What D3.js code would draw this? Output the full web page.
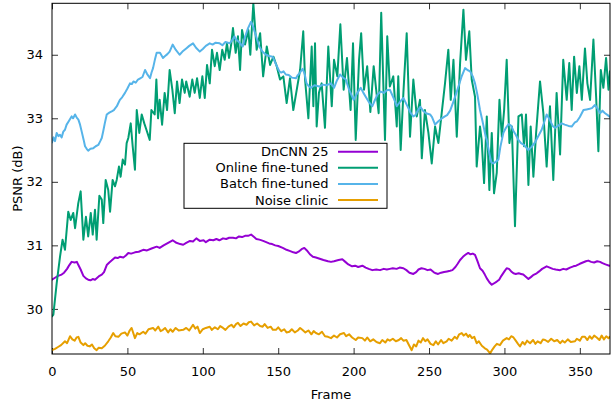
<!DOCTYPE html>
<html>
<head>
<meta charset="utf-8">
<script src="https://cdn.jsdelivr.net/npm/d3@7"></script>
<style>
  html, body { margin: 0; padding: 0; background: #fff; }
  svg { display: block; font-family: "DejaVu Sans", sans-serif; }
</style>
</head>
<body>
<svg id="chart" width="616" height="407"></svg>
<script>
// ---- Data: [frame, PSNR dB] ----
const seriesNames = ["DnCNN 25", "Online fine-tuned", "Batch fine-tuned", "Noise clinic"];
const seriesColors = ["#9400d3", "#009e73", "#56b4e9", "#e69f00"];
const xTicks = [0, 50, 100, 150, 200, 250, 300, 350];
const yTicks = [30, 31, 32, 33, 34];
const xLabel = "Frame";
const yLabel = "PSNR (dB)";

const dncnn25 = [[0,30.46],[2,30.49],[4,30.52],[6.4,30.54],[8,30.57],[10,30.63],[11.5,30.69],[13,30.74],[15,30.73],[16.5,30.74],[17.5,30.69],[19,30.62],[20.8,30.52],[22.5,30.48],[24,30.46],[25.5,30.45],[27,30.47],[28.5,30.46],[30,30.49],[31.5,30.52],[33,30.54],[34.5,30.58],[36.3,30.69],[38,30.73],[39.5,30.76],[41.8,30.81],[43.5,30.80],[45,30.82],[47.3,30.81],[49,30.84],[50.6,30.88],[52.5,30.87],[55,30.89],[57.5,30.90],[60.5,30.93],[63,30.92],[66,30.95],[69.4,30.98],[71.4,30.96],[74,31.00],[77,31.04],[80,31.08],[82.5,31.04],[85,31.02],[87,31.01],[89,31.04],[91.5,31.07],[93.5,31.06],[95.7,31.11],[98,31.07],[100.5,31.08],[102,31.05],[104.6,31.09],[107,31.08],[109,31.10],[111,31.08],[113.4,31.11],[115.5,31.10],[117.5,31.12],[120,31.12],[122,31.11],[124,31.14],[126,31.13],[128,31.15],[130,31.15],[132,31.17],[134,31.13],[135.5,31.10],[137.5,31.09],[140,31.07],[142,31.05],[144,31.03],[146,31.02],[148,31.00],[150,30.99],[153,30.96],[155.5,30.93],[158,30.91],[160,30.89],[161.8,30.88],[163.5,30.90],[165.5,30.94],[167.3,30.96],[169,30.92],[171,30.86],[173,30.82],[175,30.81],[177.5,30.79],[180,30.77],[183,30.75],[185,30.74],[187,30.75],[190,30.77],[192.5,30.78],[194.5,30.74],[196.5,30.70],[199,30.67],[201,30.68],[203,30.66],[205.8,30.68],[208,30.65],[210,30.63],[212.4,30.61],[215,30.62],[217.5,30.61],[220,30.63],[222,30.62],[224,30.63],[226,30.64],[228.5,30.63],[230.5,30.65],[233,30.64],[235,30.61],[237,30.57],[239.6,30.55],[241.5,30.58],[243,30.62],[245,30.64],[247,30.63],[249,30.61],[251,30.62],[253,30.58],[254.5,30.56],[256,30.55],[258,30.57],[260,30.58],[262,30.59],[264,30.60],[265.5,30.61],[267.5,30.66],[269,30.71],[270.6,30.77],[272.5,30.82],[274.5,30.86],[276,30.88],[277.5,30.86],[279,30.87],[280.5,30.85],[282,30.76],[283.8,30.64],[285.5,30.60],[287,30.54],[288.3,30.48],[290,30.42],[291.6,30.38],[293,30.40],[294.9,30.43],[296.5,30.46],[298,30.52],[300,30.59],[301.5,30.64],[303,30.63],[304.5,30.59],[306,30.56],[307.5,30.55],[309.5,30.56],[311,30.55],[312.5,30.54],[314,30.51],[315.9,30.47],[317.5,30.50],[319,30.53],[321.4,30.56],[323,30.59],[325,30.63],[326.5,30.65],[328,30.67],[330,30.65],[332,30.63],[334,30.62],[336.9,30.61],[339,30.63],[341,30.62],[343.5,30.65],[345.7,30.67],[347.5,30.68],[350,30.71],[352,30.73],[354,30.75],[355.6,30.76],[357.5,30.74],[359.5,30.73],[361.5,30.75],[363.4,30.74],[365,30.72],[367,30.70],[369.6,30.68]];

const onlineFineTuned = [[0,29.88],[0.9,29.91],[3.1,30.40],[5.3,30.82],[7,31.09],[8.6,30.93],[10.8,31.53],[12.4,31.40],[14.1,31.51],[15.3,31.27],[17.4,31.66],[19,31.85],[20.8,31.09],[22.5,31.45],[24,31.14],[25.7,31.51],[27,31.17],[28.5,31.56],[29.6,31.09],[31.4,31.78],[33,31.72],[34,31.35],[35.6,32.03],[37.3,31.87],[38.5,31.53],[40.2,32.03],[41.8,31.93],[42.9,32.03],[44.4,32.24],[45.5,32.08],[46.9,32.35],[48.4,32.27],[49.5,32.61],[50.6,32.69],[52.2,32.92],[53.5,32.56],[55,32.19],[56.2,33.13],[57.9,32.77],[59.5,33.06],[61.2,32.92],[62.6,32.82],[64.8,32.66],[65.9,33.13],[68.1,33.06],[69.2,33.61],[70.3,33.00],[71.4,33.29],[73,32.90],[74.7,33.40],[76.3,33.13],[78,33.76],[79.8,33.45],[81.4,33.08],[82.9,33.58],[84.6,33.24],[86.2,33.61],[88,33.40],[89,33.58],[91.3,33.34],[93,33.61],[94.6,33.40],[96.2,33.63],[98,33.32],[99.7,33.66],[101.3,33.32],[102.8,33.84],[104.6,33.55],[106.1,34.08],[107.9,33.82],[109.4,34.03],[111.2,33.76],[112.9,34.08],[114.5,33.92],[116,34.18],[117.4,33.95],[118.9,34.18],[120,34.42],[121.8,34.03],[123.3,34.29],[124.7,33.76],[126,34.39],[128,34.16],[130.2,34.39],[131.5,34.00],[133.5,34.81],[135.7,34.08],[138,34.34],[140,33.66],[142.4,34.13],[144.6,33.84],[146.8,33.97],[149,33.82],[151.2,33.61],[153.4,33.66],[155.6,33.24],[157.8,33.63],[160,33.13],[162.3,33.45],[164.5,33.76],[166.6,34.37],[167.8,33.61],[170,33.00],[172.2,34.13],[173.3,33.19],[174.4,34.18],[175.5,32.87],[177,33.40],[178.8,33.55],[181,32.85],[183.2,34.13],[185.5,33.19],[187,33.92],[189.2,33.66],[191.2,34.48],[193.4,33.45],[195.6,33.95],[198,33.13],[199.6,34.18],[201.4,32.66],[203.6,33.92],[205,34.34],[206.9,33.45],[209,33.82],[211.1,33.10],[213.3,33.82],[216.6,33.08],[218.3,34.66],[220.8,32.66],[222.3,34.29],[224,33.50],[226.3,33.66],[228.6,32.87],[229.6,33.66],[231.2,32.50],[233,33.40],[235.2,34.34],[237.4,32.71],[239.6,33.61],[241.9,33.03],[244,33.29],[245.2,32.37],[247.3,33.13],[249.6,32.77],[251.8,32.29],[254,32.87],[256.2,32.61],[258.4,33.08],[260.6,33.55],[262.8,34.08],[264.4,33.29],[266.2,33.92],[268.4,32.71],[270.6,33.87],[272.8,34.71],[274.5,33.92],[276.7,34.37],[278.3,33.61],[280.5,33.34],[281.6,32.24],[283.8,32.87],[284.9,32.66],[286.5,31.98],[288.3,33.03],[290,31.87],[291.6,32.77],[293.1,31.82],[294.9,32.14],[296.7,33.29],[298.3,32.71],[299.8,33.13],[301.5,33.92],[303.3,32.61],[304.9,32.87],[307,31.30],[309.3,33.03],[311.5,33.06],[313,32.56],[314.3,33.06],[315.9,31.95],[317.4,32.87],[319.2,32.08],[321,32.77],[323.6,33.58],[325.8,33.08],[328,32.24],[330.2,33.19],[332.4,32.03],[334.6,33.40],[336.9,32.43],[339,33.92],[341.3,33.29],[343,33.87],[344.6,33.13],[346.2,33.97],[348,33.40],[349.7,33.82],[351.3,33.29],[353.4,34.10],[355,33.55],[356.8,33.29],[359,34.24],[360.8,33.34],[362.3,32.48],[363.9,33.76],[365.6,33.48],[367.4,33.95],[369,33.45],[370,33.74]];

const batchFineTuned = [[0,32.62],[1,32.70],[2,32.64],[3.1,32.77],[4.2,32.72],[5.3,32.74],[6.4,32.70],[7.5,32.79],[8.6,32.82],[9.7,32.90],[11,32.95],[13,33.03],[14,33.00],[15.3,33.06],[16.4,33.01],[17.5,32.98],[18.6,32.90],[19.7,32.79],[21,32.66],[21.9,32.56],[23,32.52],[24,32.49],[25.5,32.52],[27.4,32.53],[29,32.56],[30.7,32.58],[32,32.64],[33,32.69],[34,32.80],[35,32.92],[36.3,33.06],[38,33.09],[39.6,33.11],[41,33.13],[43,33.19],[44,33.24],[45,33.29],[46.5,33.33],[48.4,33.40],[50,33.47],[51.7,33.55],[53,33.54],[54,33.58],[55.5,33.56],[57,33.61],[58.5,33.63],[60,33.65],[61.7,33.76],[63,33.70],[65,33.63],[66,33.72],[67,33.79],[68.2,33.92],[69.4,34.03],[71.6,34.03],[73.6,33.95],[75,33.98],[76.5,34.01],[78,34.05],[80,34.16],[82,34.08],[84.6,34.00],[86.5,34.05],[89,34.10],[91,34.14],[93.5,34.18],[95.5,34.11],[98,34.05],[100,34.09],[102,34.14],[104.6,34.18],[106.5,34.16],[108.5,34.19],[111.2,34.18],[113,34.15],[115,34.20],[117.8,34.18],[119.5,34.23],[121,34.29],[122,34.24],[124,34.20],[126.5,34.13],[128,34.28],[130,34.42],[132,34.52],[133,34.47],[134,34.39],[135.5,34.28],[137.4,34.13],[139.5,34.05],[141.9,34.00],[144,33.98],[146.3,33.97],[148.5,33.85],[150.7,33.74],[152,33.72],[153.5,33.74],[155,33.69],[157,33.68],[159,33.64],[161.8,33.63],[163,33.68],[164.5,33.72],[166.2,33.78],[167.5,33.70],[168.8,33.55],[170.5,33.50],[171.8,33.48],[174,33.52],[177.3,33.50],[179.5,33.53],[182,33.52],[185,33.55],[187,33.48],[189,33.60],[191,33.69],[193,33.64],[194.8,33.61],[197,33.45],[200,33.29],[202,33.38],[204.7,33.48],[206.5,33.40],[208,33.34],[210,33.26],[212.4,33.19],[214,33.28],[215.7,33.37],[218,33.42],[220,33.40],[222,33.44],[224,33.45],[226.5,33.32],[228.6,33.19],[230.8,33.26],[233,33.32],[235.5,33.20],[237.9,33.08],[239.6,33.03],[241,33.05],[242.5,33.12],[244.2,33.18],[246,33.12],[248,33.08],[250.7,33.06],[252,33.02],[254,32.90],[256,32.95],[258,32.99],[260.5,33.03],[262,33.05],[264,33.12],[266,33.25],[267.6,33.36],[269.5,33.50],[271.5,33.65],[273.9,33.79],[275.5,33.76],[277.2,33.74],[279,33.66],[280.5,33.55],[282,33.38],[283.8,33.13],[285.5,32.95],[287.5,32.72],[288.3,32.66],[290,32.45],[291.2,32.31],[292.6,32.29],[294,32.31],[296,32.35],[297.3,32.55],[299.3,32.77],[301,32.85],[302.8,32.91],[304.5,32.88],[306,32.80],[307.5,32.74],[309,32.67],[311,32.61],[313,32.58],[315.9,32.50],[318,32.55],[320.5,32.63],[322.5,32.72],[324.7,32.82],[326.5,32.95],[328,33.06],[330,32.98],[332,32.88],[333.5,32.85],[335.5,32.88],[338,32.92],[340,32.90],[342.5,32.88],[344.6,32.87],[346.5,32.93],[348,32.95],[350,33.02],[352.4,33.13],[354.5,33.14],[356.5,33.15],[358,33.16],[360,33.21],[361.8,33.15],[363.4,33.08],[365,33.12],[366.7,33.08],[368.5,33.05],[370,33.02]];

const noiseClinic = [[0,29.35],[2,29.37],[4,29.40],[6,29.43],[8.6,29.49],[10,29.46],[12,29.57],[13.5,29.52],[15,29.50],[16.3,29.55],[17.5,29.56],[19,29.47],[20.8,29.43],[22,29.46],[23.5,29.42],[25,29.41],[26.5,29.44],[28,29.38],[29.6,29.35],[31,29.39],[33,29.38],[35,29.42],[37.3,29.49],[39,29.55],[40.6,29.62],[42,29.57],[44,29.56],[46,29.61],[48.4,29.63],[50,29.58],[51.5,29.66],[52.8,29.70],[55,29.54],[56.5,29.62],[58,29.60],[60.5,29.64],[62,29.61],[64,29.68],[67,29.70],[68.5,29.66],[70.5,29.72],[72,29.65],[73.6,29.67],[75,29.70],[77,29.63],[78.5,29.68],[80,29.64],[82,29.70],[84,29.66],[87,29.67],[89,29.70],[91,29.66],[93.5,29.75],[95,29.69],[96.5,29.72],[98,29.62],[100,29.68],[102,29.70],[104.6,29.72],[106,29.67],[108,29.71],[110,29.68],[111.5,29.73],[113.4,29.70],[115,29.67],[117,29.72],[119,29.75],[120.5,29.71],[122,29.76],[123.3,29.78],[125,29.73],[127,29.77],[129,29.75],[130.5,29.79],[132,29.80],[134,29.74],[136,29.77],[138,29.73],[139.7,29.72],[141,29.76],[143,29.70],[145,29.72],[146.5,29.67],[148.5,29.67],[150,29.71],[152,29.65],[154,29.68],[155.5,29.63],[157.4,29.64],[159,29.68],[161,29.63],[163,29.66],[164.5,29.70],[166,29.67],[168,29.63],[170,29.66],[172,29.60],[173.5,29.65],[175,29.62],[177,29.60],[179,29.64],[181,29.57],[183,29.56],[185,29.54],[187,29.58],[189,29.55],[191,29.60],[193.6,29.62],[195,29.57],[197,29.60],[199,29.55],[201.4,29.51],[203,29.55],[205.8,29.54],[207.5,29.50],[209,29.55],[211,29.49],[213,29.52],[214.6,29.49],[216,29.47],[217.5,29.46],[219,29.51],[221,29.47],[222.5,29.52],[224,29.50],[226,29.53],[228,29.49],[230,29.51],[231.5,29.54],[233,29.50],[235,29.51],[236.5,29.44],[238.5,29.35],[240,29.44],[241.5,29.41],[243,29.50],[244.5,29.47],[246,29.54],[247.5,29.49],[249,29.52],[251,29.45],[252.9,29.43],[254.5,29.49],[256,29.44],[258,29.51],[259.5,29.46],[261.7,29.49],[263,29.53],[265,29.50],[267,29.56],[268.5,29.53],[270,29.60],[271.7,29.62],[273,29.58],[274.5,29.61],[276,29.56],[277,29.59],[278.5,29.54],[280,29.56],[281.6,29.46],[283,29.49],[285,29.42],[287,29.38],[288.5,29.36],[290.5,29.30],[292,29.36],[293.5,29.41],[295,29.45],[297,29.43],[299,29.50],[301.5,29.54],[303,29.52],[304.5,29.57],[306,29.55],[307.5,29.50],[309,29.45],[310.3,29.41],[312,29.48],[313.5,29.44],[315,29.50],[317,29.46],[319,29.51],[320.5,29.45],[322,29.49],[324,29.46],[325.5,29.52],[327,29.51],[329,29.48],[331,29.53],[333,29.49],[335,29.51],[336.9,29.46],[338.5,29.50],[340,29.47],[342,29.52],[344,29.48],[346.8,29.49],[348,29.53],[350,29.50],[351.5,29.56],[353.4,29.56],[355,29.51],[356.5,29.57],[358,29.53],[359.5,29.58],[361.2,29.55],[363,29.51],[364.5,29.58],[366,29.52],[367.5,29.57],[369,29.54],[370,29.56]];

const seriesData = [dncnn25, onlineFineTuned, batchFineTuned, noiseClinic];

// ---- Layout ----
const W = 616, H = 407;
const plot = { left: 52, right: 610, top: 3.3, bottom: 354 };
const svg = d3.select("#chart");

const x = d3.scaleLinear().domain([0, 370]).range([plot.left, plot.right]);
const y = d3.scaleLinear().domain([29.29, 34.81]).range([plot.bottom, plot.top]);

const fontSize = 13;
const tickLen = 6;

// clip
svg.append("defs").append("clipPath").attr("id", "clip")
  .append("rect").attr("x", plot.left).attr("y", plot.top)
  .attr("width", plot.right - plot.left).attr("height", plot.bottom - plot.top);

// axes
function styleAxis(g) {
  g.select(".domain").remove();
  g.selectAll(".tick line").attr("stroke", "#333").attr("stroke-width", 1);
  g.selectAll(".tick text").attr("fill", "#000").attr("font-size", fontSize)
    .attr("font-family", '"DejaVu Sans", sans-serif');
}
svg.append("g").attr("transform", `translate(0,${plot.bottom})`)
  .call(d3.axisBottom(x).tickValues(xTicks).tickSizeInner(-tickLen).tickSizeOuter(0).tickPadding(13))
  .call(styleAxis);
svg.append("g").attr("transform", `translate(0,${plot.top})`)
  .call(d3.axisTop(x).tickValues(xTicks).tickSizeInner(-tickLen).tickSizeOuter(0).tickFormat(""))
  .call(styleAxis);
svg.append("g").attr("transform", `translate(${plot.left},0)`)
  .call(d3.axisLeft(y).tickValues(yTicks).tickSizeInner(-tickLen).tickSizeOuter(0).tickPadding(9).tickFormat(d3.format("d")))
  .call(styleAxis);
svg.append("g").attr("transform", `translate(${plot.right},0)`)
  .call(d3.axisRight(y).tickValues(yTicks).tickSizeInner(-tickLen).tickSizeOuter(0).tickFormat(""))
  .call(styleAxis);

// lines
const line = d3.line().x(d => x(d[0])).y(d => y(d[1]));
const lines = svg.append("g").attr("clip-path", "url(#clip)");
seriesData.forEach((data, i) => {
  lines.append("path").datum(data)
    .attr("d", line)
    .attr("fill", "none")
    .attr("stroke", seriesColors[i])
    .attr("stroke-width", 2)
    .attr("stroke-linejoin", "round")
    .attr("stroke-linecap", "round");
});

// border
svg.append("rect")
  .attr("x", plot.left).attr("y", plot.top)
  .attr("width", plot.right - plot.left).attr("height", plot.bottom - plot.top)
  .attr("fill", "none").attr("stroke", "#000").attr("stroke-width", 1);

// axis labels
svg.append("text")
  .attr("x", (plot.left + plot.right) / 2).attr("y", 399)
  .attr("text-anchor", "middle").attr("font-size", fontSize).attr("fill", "#000")
  .text(xLabel);
svg.append("text")
  .attr("transform", `translate(22,${(plot.top + plot.bottom) / 2}) rotate(-90)`)
  .attr("text-anchor", "middle").attr("font-size", fontSize).attr("fill", "#000")
  .text(yLabel);

// legend
const legend = { x: 184, y: 143.3, w: 203, h: 65, rowH: 16.1, textRight: 328.5, sampleX0: 338, sampleX1: 378 };
const lg = svg.append("g");
lg.append("rect").attr("x", legend.x).attr("y", legend.y)
  .attr("width", legend.w).attr("height", legend.h)
  .attr("fill", "#fff").attr("stroke", "#000").attr("stroke-width", 1);
seriesNames.forEach((name, i) => {
  const cy = legend.y + 8.4 + i * legend.rowH;
  lg.append("text").attr("x", legend.textRight).attr("y", cy)
    .attr("dy", "0.35em").attr("text-anchor", "end")
    .attr("font-size", fontSize).attr("fill", "#000").text(name);
  lg.append("line").attr("x1", legend.sampleX0).attr("x2", legend.sampleX1)
    .attr("y1", cy).attr("y2", cy)
    .attr("stroke", seriesColors[i]).attr("stroke-width", 2);
});
</script>
</body>
</html>
